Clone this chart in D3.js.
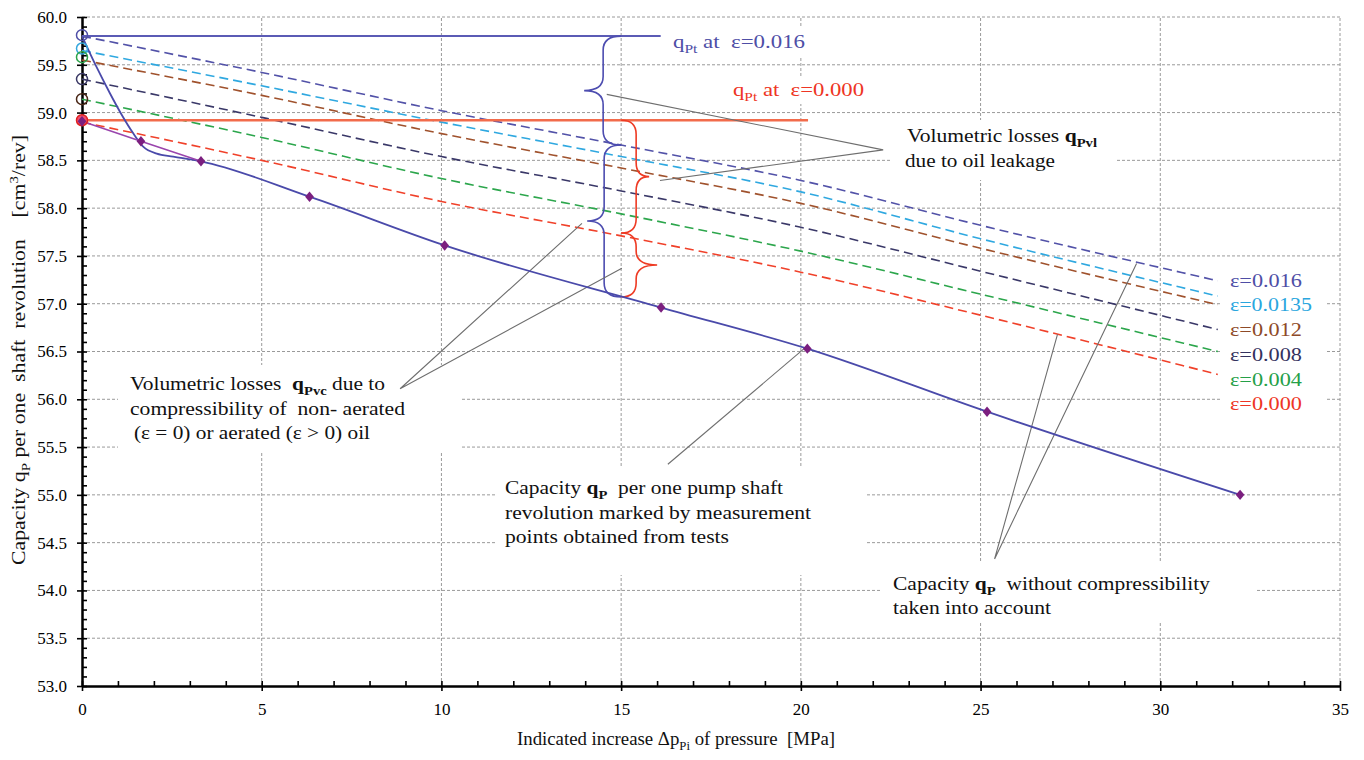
<!DOCTYPE html>
<html>
<head>
<meta charset="utf-8">
<script src="https://cdn.jsdelivr.net/npm/d3@7"></script>
<style>
  body { margin: 0; background: #fff; }
  svg { display: block; }
</style>
</head>
<body>
<script>
// measured points (purple diamonds)
const pressure = [0, 1.64, 3.31, 6.33, 10.09, 16.11, 20.18, 25.18, 32.22]
const capacity = [58.91, 58.70, 58.49, 58.12, 57.61, 56.96, 56.53, 55.87, 55.00]

// blue curve q_P from q_Pt at eps=0.016 down to the measured points
const curveP = [0, 0.4, 0.78, 1.1, 1.43, 1.71, 2.08, 2.54, 3.31, 6.33, 10.09, 16.11, 20.18, 25.18, 32.22]
const curveQ = [59.80, 59.48, 59.20, 58.98, 58.78, 58.64, 58.57, 58.54, 58.49, 58.12, 57.61, 56.96, 56.53, 55.87, 55.00]

// capacity without compressibility, one dashed line per aeration
const dashP = [0, 5, 10, 15, 20, 25, 31.6]
const epsLabels = ['ε=0.016', 'ε=0.0135', 'ε=0.012', 'ε=0.008', 'ε=0.004', 'ε=0.000']
const eps016 = [59.80, 59.42, 59.02, 58.66, 58.29, 57.82, 57.24]
const eps0135 = [59.65, 59.28, 58.90, 58.54, 58.17, 57.68, 57.08]
const eps012 = [59.55, 59.18, 58.78, 58.42, 58.05, 57.58, 56.99]
const eps008 = [59.35, 58.95, 58.54, 58.18, 57.80, 57.34, 56.73]
const eps004 = [59.14, 58.74, 58.31, 57.94, 57.55, 57.10, 56.50]
const eps000 = [58.90, 58.50, 58.07, 57.71, 57.33, 56.88, 56.26]
const epsSeries = [eps016, eps0135, eps012, eps008, eps004, eps000]

// theoretical capacities q_Pt
const qPt016 = 59.80
const qPt000 = 58.92
const startMarks = [59.81, 59.67, 59.58, 59.35, 59.14, 58.92]

const xTicks = [0, 5, 10, 15, 20, 25, 30, 35]
const yTicks = d3.range(53, 60.001, 0.5)

const lineCol = ['#5252a8', '#2fa8e0', '#a0522d', '#3a3868', '#2ca64c', '#f0412a']
const textCol = ['#4e4ea6', '#2aa6de', '#8e4a28', '#34325e', '#25a048', '#ee3524']
const markCol = ['#5050a8', '#35a7de', '#2ea44a', '#3b3966', '#4a2818', '#e02020']

const W = 1364, H = 760
const FONT = "'Liberation Serif', 'Times New Roman', serif"

const svg = d3.select('body').append('svg').attr('width', W).attr('height', H)
svg.append('rect').attr('width', W).attr('height', H).attr('fill', '#fff')

const x = d3.scaleLinear().domain([0, 35]).range([82, 1340])
const y = d3.scaleLinear().domain([53, 60]).range([686, 17])

// grid
const grid = svg.append('g').attr('stroke', '#9a9a9a').attr('stroke-width', 1).attr('stroke-dasharray', '3,2')
grid.selectAll('.h').data(yTicks.slice(1)).enter().append('line')
  .attr('x1', x(0)).attr('x2', x(35)).attr('y1', d => y(d)).attr('y2', d => y(d))
grid.selectAll('.v').data(xTicks.slice(1)).enter().append('line')
  .attr('x1', d => x(d)).attr('x2', d => x(d)).attr('y1', y(53)).attr('y2', y(60))

// white boxes behind the annotation texts
const boxes = [
  [665, 28, 148, 30], [726, 76, 142, 28],
  [892, 120, 225, 60], [118, 365, 344, 87],
  [496, 467, 371, 108], [880, 562, 376, 60], [1222, 265, 105, 155]
]
svg.append('g').selectAll('rect').data(boxes).enter().append('rect')
  .attr('x', d => d[0]).attr('y', d => d[1]).attr('width', d => d[2]).attr('height', d => d[3])
  .attr('fill', '#fff')

// axes
const axisStyle = g => {
  g.select('.domain').attr('stroke', '#000').attr('stroke-width', 2)
  g.selectAll('.tick line').attr('stroke', '#000').attr('stroke-width', 1.6)
  g.selectAll('text').attr('font-family', FONT).attr('font-size', 17).attr('fill', '#000')
}
svg.append('g').attr('transform', `translate(${x(0)},0)`)
  .call(d3.axisLeft(y).tickValues(yTicks).tickSize(5).tickPadding(10).tickSizeOuter(0).tickFormat(d3.format('.1f')))
  .call(axisStyle)
svg.append('g').attr('transform', `translate(${x(0)},0)`)
  .call(d3.axisRight(y).tickValues(d3.range(53, 60.001, 0.1)).tickSize(5).tickSizeOuter(0).tickFormat(''))
  .call(axisStyle)
svg.append('g').attr('transform', `translate(0,${y(53)})`)
  .call(d3.axisBottom(x).tickValues(xTicks).tickSize(5).tickPadding(12).tickSizeOuter(0))
  .call(axisStyle)
svg.append('g').attr('transform', `translate(0,${y(53)})`)
  .call(d3.axisTop(x).tickValues(d3.range(0, 35.001, 1)).tickSize(5).tickSizeOuter(0).tickFormat(''))
  .call(axisStyle)

// rich text helper: parts are strings or [text, kind] with b = bold, s = sub, u = sup
function richText(parent, tx, ty, parts, o) {
  const t = parent.append('text').attr('x', tx).attr('y', ty)
    .attr('font-family', FONT).attr('font-size', o.size || 19)
    .attr('fill', o.color || '#111').style('white-space', 'pre')
  if (o.len) t.attr('textLength', o.len).attr('lengthAdjust', 'spacingAndGlyphs')
  if (o.anchor) t.attr('text-anchor', o.anchor)
  let shift = 0
  parts.forEach(p => {
    const [str, kind] = typeof p === 'string' ? [p, ''] : p
    const want = kind.includes('s') ? 5 : kind.includes('u') ? -7 : 0
    const s = t.append('tspan').text(str).attr('dy', want - shift)
    shift = want
    if (want !== 0) s.attr('font-size', '0.68em')
    if (kind.includes('b')) s.attr('font-weight', 'bold')
  })
  return t
}

// dashed lines
const line = d3.line().x(d => x(d[0])).y(d => y(d[1])).curve(d3.curveMonotoneX)
epsSeries.forEach((vals, i) => {
  svg.append('path').datum(dashP.map((p, j) => [p, vals[j]]))
    .attr('d', line).attr('fill', 'none').attr('stroke', lineCol[i])
    .attr('stroke-width', 1.6).attr('stroke-dasharray', '9,5')
})

// theoretical capacity lines
svg.append('line').attr('x1', x(0)).attr('x2', x(16.1)).attr('y1', y(qPt016)).attr('y2', y(qPt016))
  .attr('stroke', '#5b5bb5').attr('stroke-width', 2)
svg.append('line').attr('x1', x(0)).attr('x2', x(20.2)).attr('y1', y(qPt000)).attr('y2', y(qPt000))
  .attr('stroke', '#f26b4b').attr('stroke-width', 2.5)

// braces at 15 MPa
function brace(px, q1, q2, dir, d, w, col) {
  const x0 = x(px), y1 = y(q1), y2 = y(q2), ym = (y1 + y2) / 2
  const r = Math.min(14, (y2 - y1) / 4)
  const xs = x0 + dir * d, xt = x0 + dir * w
  const p = d3.path()
  p.moveTo(x0, y1)
  p.quadraticCurveTo(xs, y1, xs, y1 + r)
  p.lineTo(xs, ym - r)
  p.quadraticCurveTo(xs, ym, xt, ym)
  p.quadraticCurveTo(xs, ym, xs, ym + r)
  p.lineTo(xs, y2 - r)
  p.quadraticCurveTo(xs, y2, x0, y2)
  svg.append('path').attr('d', p.toString()).attr('fill', 'none')
    .attr('stroke', col).attr('stroke-width', 1.6)
}
brace(15, 59.80, 58.66, -1, 18, 37, '#4d4db0')
brace(15, 58.66, 57.07, -1, 17, 34, '#4d4db0')
brace(15, 58.92, 57.74, 1, 15, 28, '#ee3b24')
brace(15, 57.74, 57.07, 1, 15, 36, '#ee3b24')

// leader lines (pressure, capacity)
const leaders = [
  [[14.6, 59.19], [22.29, 58.61], [16.08, 58.29]],
  [[13.91, 57.84], [8.85, 56.11], [15.02, 57.37]],
  [[16.30, 55.32], [20.09, 56.53]],
  [[27.14, 56.68], [25.39, 54.33], [29.34, 57.42]]
]
const straight = d3.line().x(d => x(d[0])).y(d => y(d[1]))
leaders.forEach(l => svg.append('path').attr('d', straight(l)).attr('fill', 'none')
  .attr('stroke', '#6e6e6e').attr('stroke-width', 1.1))

// blue capacity curve and purple start segment
svg.append('path').datum(curveP.map((p, i) => [p, curveQ[i]]))
  .attr('d', line).attr('fill', 'none').attr('stroke', '#4a4aaa').attr('stroke-width', 1.8)
svg.append('path').datum(pressure.slice(0, 3).map((p, i) => [p, capacity[i]]))
  .attr('d', straight).attr('fill', 'none').attr('stroke', '#9a45ad').attr('stroke-width', 1.6)

// start circles at 0 MPa
svg.append('g').selectAll('circle').data(startMarks).enter().append('circle')
  .attr('cx', x(0)).attr('cy', d => y(d)).attr('r', 5.5)
  .attr('fill', (d, i) => i === 5 ? '#f0506e' : 'none')
  .attr('stroke', (d, i) => markCol[i]).attr('stroke-width', 1.5)

// measured points (square turned into a diamond)
svg.append('g').selectAll('path').data(pressure).enter().append('path')
  .attr('transform', (d, i) => `translate(${x(d)},${y(capacity[i])}) scale(1,1.2) rotate(45)`)
  .attr('d', d3.symbol(d3.symbolSquare, 38)).attr('fill', '#7b1f7f')

// texts
richText(svg, 673, 48, ['q', ['Pt', 's'], ' at  ε=0.016'], { color: textCol[0], len: 132 })
richText(svg, 733, 96, ['q', ['Pt', 's'], ' at  ε=0.000'], { color: textCol[5], len: 131 })

epsLabels.forEach((lab, i) => richText(svg, 1230, 286.7 + i * 24.7, [lab],
  { color: textCol[i], len: i === 1 ? 82 : 72 }))

richText(svg, 907, 142, ['Volumetric losses ', ['q', 'b'], ['Pvl', 'bs']], { len: 190 })
richText(svg, 905, 167, ['due to oil leakage'], { len: 150 })

richText(svg, 130, 390, ['Volumetric losses  ', ['q', 'b'], ['Pvc', 'bs'], ' due to'], { len: 255 })
richText(svg, 130, 415, ['compressibility of  non- aerated'], { len: 275 })
richText(svg, 134, 439, ['(ε = 0) or aerated (ε > 0) oil'], { len: 236 })

richText(svg, 505, 494, ['Capacity ', ['q', 'b'], ['P', 'bs'], '  per one pump shaft'], { len: 278 })
richText(svg, 505, 519, ['revolution marked by measurement'], { len: 306 })
richText(svg, 505, 543, ['points obtained from tests'], { len: 224 })

richText(svg, 893, 590, ['Capacity ', ['q', 'b'], ['P', 'bs'], '  without compressibility'], { len: 317 })
richText(svg, 893, 614, ['taken into account'], { len: 158 })

// axis titles
richText(svg, 517, 745, ['Indicated increase Δp', ['Pi', 's'], ' of pressure  [MPa]'], { len: 318 })
richText(svg, 0, 0, ['Capacity q', ['P', 's'], ' per one  shaft  revolution    [cm', ['3', 'u'], '/rev]'],
  { len: 430, anchor: 'middle' })
  .attr('transform', 'translate(25,350) rotate(-90)')
</script>
</body>
</html>
